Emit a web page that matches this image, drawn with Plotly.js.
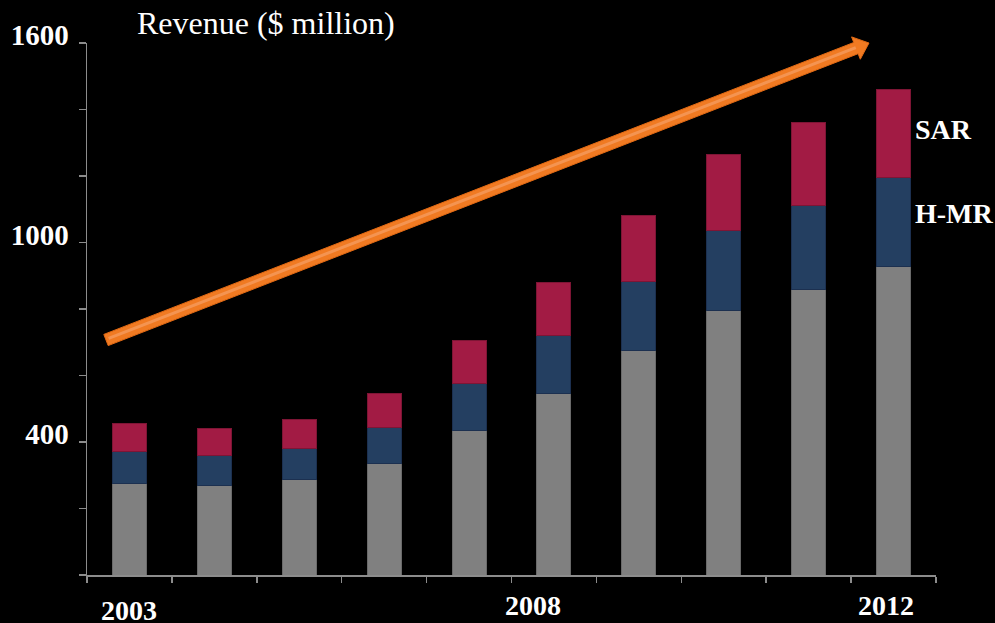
<!DOCTYPE html>
<html>
<head>
<meta charset="utf-8">
<script src="https://cdn.plot.ly/plotly-3.0.1.min.js"></script>
<style>
  html, body { margin: 0; padding: 0; background: #000; }
  #chart { width: 995px; height: 623px; }
</style>
</head>
<body>
<div id="chart"></div>
<script>
// ---- Data ----
const years = [2003, 2004, 2005, 2006, 2007, 2008, 2009, 2010, 2011, 2012];
const baseRevenue = [275, 268, 287, 335, 434, 547, 674, 797, 860, 927];   // grey
const hmrRevenue  = [97, 92, 94, 109, 141, 173, 208, 238, 251, 269];       // H-MR (navy)
const sarRevenue  = [84, 81, 88, 102, 131, 161, 198, 231, 249, 263];       // SAR (red)
const yTickVals = [0, 200, 400, 600, 800, 1000, 1200, 1400, 1600];
const yTickText = ['', '', '400', '', '', '1000', '', '', '1600'];
const yearLabels = ['2003', '2008', '2012'];

// ---- Layout geometry (pixels) ----
const W = 995, H = 623;
const M = { l: 87, r: 59, t: 43, b: 48 };
const PW = W - M.l - M.r, PH = H - M.t - M.b;
const px2paperX = px => (px - M.l) / PW;
const px2paperY = py => (H - M.b - py) / PH;

const serif = 'Liberation Serif, Times New Roman, serif';
const white = '#ffffff';

const traces = [
  { name: 'Other', x: years, y: baseRevenue, type: 'bar',
    marker: { color: '#808080', line: { color: '#6a6a6a', width: 1 } } },
  { name: 'H-MR', x: years, y: hmrRevenue, type: 'bar',
    marker: { color: '#243f61', line: { color: '#1c3050', width: 1 } } },
  { name: 'SAR', x: years, y: sarRevenue, type: 'bar',
    marker: { color: '#a21b44', line: { color: '#7e1535', width: 1 } } }
];

// x-axis boundary ticks
const xBoundaries = [];
for (let i = 0; i <= years.length; i++) xBoundaries.push(years[0] - 0.5 + i);

// Arrow polygon (decoration) in pixel space -> paper
const T = [106, 340], P = [869, 43];
const dx = P[0] - T[0], dy = P[1] - T[1], len = Math.hypot(dx, dy);
const u = [dx / len, dy / len], n = [-u[1], u[0]];
const hw = 6, headW = 12, headL = 14;
const B = [P[0] - headL * u[0], P[1] - headL * u[1]];
const pt = (p, k) => [p[0] + k * n[0], p[1] + k * n[1]];
const poly = [pt(T, hw), pt(B, hw), pt(B, headW), P, pt(B, -headW), pt(B, -hw), pt(T, -hw)];
const toPath = pts => 'M ' + pts.map(p => px2paperX(p[0]).toFixed(5) + ',' + px2paperY(p[1]).toFixed(5)).join(' L ') + ' Z';
const hl1 = pt(T, -0.5), hl2 = pt(B, -0.5);

const shapes = [
  { type: 'path', xref: 'paper', yref: 'paper', path: toPath(poly),
    fillcolor: '#f07a22', line: { color: '#e26a14', width: 1 } },
  { type: 'line', xref: 'paper', yref: 'paper',
    x0: px2paperX(hl1[0] + 3 * u[0]), y0: px2paperY(hl1[1] + 3 * u[1]),
    x1: px2paperX(hl2[0]), y1: px2paperY(hl2[1]),
    line: { color: 'rgba(248,170,120,0.55)', width: 3 } }
];

const boldFont = { family: serif, size: 28, color: white, weight: 'bold' };
const annotations = [
  { text: '<b>' + yearLabels[0] + '</b>', x: 2003, xref: 'x', y: px2paperY(610), yref: 'paper',
    xanchor: 'center', yanchor: 'middle', showarrow: false, font: boldFont },
  { text: '<b>' + yearLabels[1] + '</b>', x: years[0] - 0.5 + (532.5 - M.l) / (PW / years.length), xref: 'x',
    y: px2paperY(605), yref: 'paper', xanchor: 'center', yanchor: 'middle', showarrow: false, font: boldFont },
  { text: '<b>' + yearLabels[2] + '</b>', x: years[0] - 0.5 + (886 - M.l) / (PW / years.length), xref: 'x',
    y: px2paperY(605), yref: 'paper', xanchor: 'center', yanchor: 'middle', showarrow: false, font: boldFont },
  { text: '<b>SAR</b>', x: px2paperX(913), xref: 'paper', y: px2paperY(129), yref: 'paper',
    xanchor: 'left', yanchor: 'middle', showarrow: false, font: boldFont },
  { text: '<b>H-MR</b>', x: px2paperX(913), xref: 'paper', y: px2paperY(213), yref: 'paper',
    xanchor: 'left', yanchor: 'middle', showarrow: false, font: boldFont }
];

const layout = {
  width: W, height: H,
  paper_bgcolor: '#000000', plot_bgcolor: '#000000',
  margin: M,
  barmode: 'stack',
  bargap: 0.6,
  showlegend: false,
  title: { text: 'Revenue ($ million)', x: 137 / W, xanchor: 'left', xref: 'container',
           y: 1 - 23 / H, yanchor: 'middle', yref: 'container',
           font: { family: serif, size: 32, color: white } },
  xaxis: {
    range: [years[0] - 0.5, years[years.length - 1] + 0.5],
    tickmode: 'array', tickvals: xBoundaries, showticklabels: false,
    ticks: 'outside', ticklen: 6, tickwidth: 1.5, tickcolor: '#8c8c8c',
    showline: true, linecolor: '#8c8c8c', linewidth: 1.5,
    showgrid: false, zeroline: false, fixedrange: true
  },
  yaxis: {
    range: [0, 1600],
    tickmode: 'array', tickvals: yTickVals, ticktext: yTickText,
    ticks: 'outside', ticklen: 7, tickwidth: 1.5, tickcolor: '#8c8c8c',
    showline: true, linecolor: '#8c8c8c', linewidth: 1.5,
    showgrid: false, zeroline: false,
    tickfont: { family: serif, size: 29, color: white, weight: 'bold' },
    ticklabelstandoff: 4, ticklabelshift: -8
  },
  shapes: shapes,
  annotations: annotations
};

Plotly.newPlot('chart', traces, layout, { displayModeBar: false, staticPlot: true });
</script>
</body>
</html>
